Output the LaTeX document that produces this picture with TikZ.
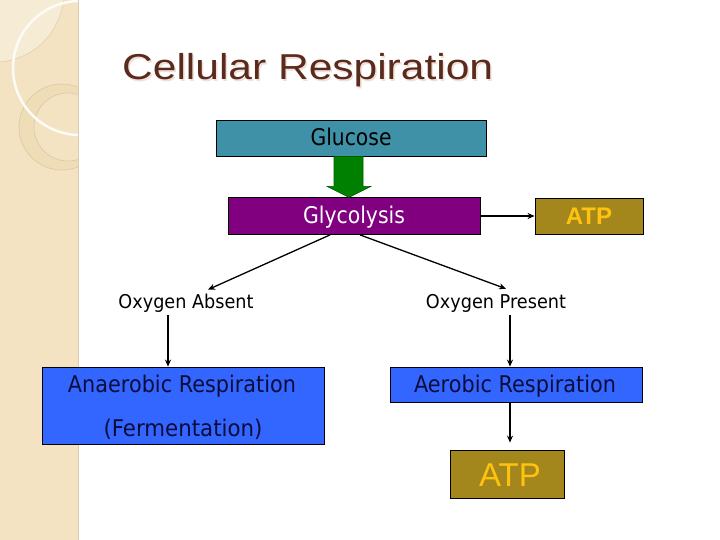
\documentclass[tikz,border=0pt]{standalone}
\usepackage{fontspec}
\setmainfont{DejaVu Sans}
\newfontfamily\arial{Liberation Sans}
\usetikzlibrary{arrows.meta,calc}
\definecolor{stripe}{HTML}{F3E3C2}
\definecolor{stripelight}{HTML}{F6ECD6}
\definecolor{ringline}{HTML}{DCC7A0}
\definecolor{ringband}{HTML}{EFDDB8}
\definecolor{titlecol}{HTML}{5A2A1C}
\definecolor{titleshadow}{HTML}{EFE0DA}
\definecolor{glucosecol}{HTML}{3E91A7}
\definecolor{glycocol}{HTML}{800080}
\definecolor{atpfill}{HTML}{A4871C}
\definecolor{atptext}{HTML}{FFC20E}
\definecolor{respfill}{HTML}{3366FF}
\definecolor{resptext}{HTML}{0C0C3C}
\definecolor{arrowgreen}{HTML}{008000}
\newcommand{\fw}[2]{\resizebox{#1pt}{\height}{#2}}
\tikzset{
  box/.style={draw=black, line width=0.8pt, inner sep=0pt, minimum width=#1},
  lbl/.style={inner sep=0pt, anchor=base},
  conn/.style={line width=1.3pt, -{Stealth[length=7pt,width=6pt]}},
}
\begin{document}
\begin{tikzpicture}[x=1pt,y=-1pt]
\useasboundingbox (0,0) rectangle (720,540);
\fill[white] (0,0) rectangle (720,540);
% decorative left stripe
\begin{scope}
\clip (0,0) rectangle (78,540);
\fill[stripe] (0,0) rectangle (78,540);
\fill[stripelight] (0,62) .. controls (35,58) and (58,35) .. (64,0) -- (0,0) -- cycle;
\draw[ringline, line width=0.4pt] (0,62) .. controls (35,58) and (58,35) .. (64,0);
\fill[ringband, even odd rule] (62,127) circle[radius=43] (68,127) circle[radius=34];
\draw[ringline, line width=0.6pt] (62,127) circle[radius=43];
\draw[ringline, line width=0.6pt] (68,127) circle[radius=34];
\draw[white!85!stripe, line width=2.5pt] (80,68) circle[radius=67];
\end{scope}
\draw[stripe!90!black, line width=0.3pt] (78,0) -- (78,540);
% title
\node[lbl, anchor=base west, text=titleshadow] at (123.5,81.5) {\fw{371}{\fontsize{36}{40}\selectfont\arial Cellular Respiration}};
\node[lbl, anchor=base west, text=titlecol] (title) at (122,80) {\fw{371}{\fontsize{36}{40}\selectfont\arial Cellular Respiration}};
% boxes
\node[box=270pt, minimum height=36pt, fill=glucosecol] (glucose) at (351,138) {};
\node[lbl] at (351,146) {\fw{81}{\fontsize{23}{26}\selectfont Glucose}};
\node[box=252pt, minimum height=37pt, fill=glycocol] (glyco) at (354,216) {};
\node[lbl, text=white] at (354,224) {\fw{102}{\fontsize{23}{26}\selectfont Glycolysis}};
\node[box=108pt, minimum height=36pt, fill=atpfill] (atp1) at (589,216) {};
\node[lbl, text=atptext] at (589,224.5) {\fontsize{24}{26}\selectfont\arial\bfseries ATP};
\node[inner sep=1pt] (absent) at (186,303) {\fw{135}{\fontsize{19}{22}\selectfont Oxygen Absent}};
\node[inner sep=1pt] (present) at (496,303) {\fw{140}{\fontsize{19}{22}\selectfont Oxygen Present}};
\node[box=282pt, minimum height=77pt, fill=respfill] (anaer) at (183,405.5) {};
\node[lbl, text=resptext] at (182,392) {\fw{228}{\fontsize{23}{26}\selectfont Anaerobic Respiration}};
\node[lbl, text=resptext] at (183,436) {\fw{159}{\fontsize{23}{26}\selectfont (Fermentation)}};
\node[box=252pt, minimum height=35pt, fill=respfill] (aer) at (516,384.5) {};
\node[lbl, text=resptext] at (515,392) {\fw{202}{\fontsize{23}{26}\selectfont Aerobic Respiration}};
\node[box=114pt, minimum height=48pt, fill=atpfill] (atp2) at (507,474) {};
\node[lbl, text=atptext] at (510,486) {\fontsize{33}{36}\selectfont\arial ATP};
% green block arrow
\coordinate (ga) at ($(glucose.south)+(-2,0)$);
\fill[arrowgreen, draw=arrowgreen!70!black, line width=0.6pt]
  ($(ga)+(-15,0)$) -- ($(ga)+(14,0)$) -- ($(ga)+(14,30)$) -- ($(ga)+(22,30)$)
  -- ($(ga)+(0,41)$) -- ($(ga)+(-22,30)$) -- ($(ga)+(-15,30)$) -- cycle;
% connectors
\draw[conn] (glyco.east) -- (atp1.west);
\draw[conn] ($(glyco.south)+(-24,0)$) -- ($(absent.north)+(22,-3)$);
\draw[conn] ($(glyco.south)+(6,0)$) -- ($(present.north)+(10,-4)$);
\draw[conn] ($(absent.south)+(-18,2)$) -- (anaer.north -| 168,0);
\draw[conn] ($(present.south)+(14,2)$) -- (aer.north -| 510,0);
\draw[conn, shorten >=7pt] (aer.south -| 510,0) -- (atp2.north -| 510,0);
\end{tikzpicture}
\end{document}
